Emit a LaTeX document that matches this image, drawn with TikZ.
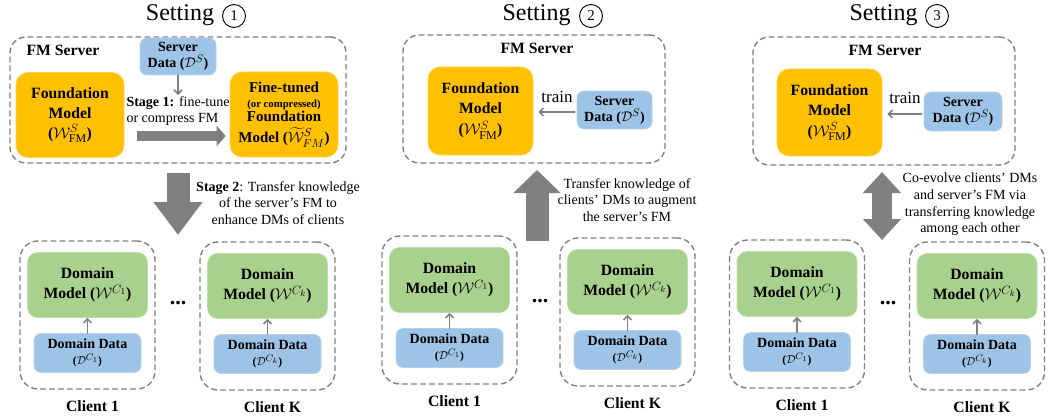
\RequirePackage{fix-cm}
\documentclass[tikz,border=0pt]{standalone}
\usepackage{fontspec}
\setmainfont{Liberation Serif}[BoldFont={Liberation Serif Bold},ItalicFont={Liberation Serif Italic}]
\usepackage{amsmath}
\usetikzlibrary{arrows.meta,positioning}

\DeclareMathSizes{15.7}{15.7}{12}{9}
\DeclareMathSizes{15}{15}{11.5}{8.5}
\DeclareMathSizes{14}{14}{11}{8}
\DeclareMathSizes{11.5}{11.5}{9.5}{7.5}

\definecolor{fmorange}{HTML}{FFC000}
\definecolor{dmgreen}{HTML}{A9D18E}
\definecolor{datablue}{HTML}{9DC3E6}
\definecolor{dashgray}{HTML}{7F7F7F}
\definecolor{arrowgray}{HTML}{808080}

\newcommand{\setfnt}{\fontsize{24}{26}\selectfont}
\newcommand{\boldfnt}{\fontsize{15.7}{20}\selectfont\bfseries}
\newcommand{\datafnt}{\fontsize{14}{16}\selectfont\bfseries}
\newcommand{\notefnt}{\fontsize{14}{16.7}\selectfont}
\newcommand{\smallfnt}{\fontsize{10.7}{14}\selectfont\bfseries}

\begin{document}
\begin{tikzpicture}[x=1pt,y=-1pt,line cap=round,line join=round,
	serverbox/.style={draw=dashgray,line width=1.4pt,dash pattern=on 5pt off 4pt,rounded corners=16pt},
	clientbox/.style={draw=dashgray,line width=1.4pt,dash pattern=on 5pt off 4pt,rounded corners=18pt,minimum width=135pt,minimum height=148pt},
	fmnode/.style={fill=fmorange,draw=fmorange!70!white,line width=0.6pt,rounded corners=12pt,align=center,font=\boldfnt,inner sep=1pt},
	dmnode/.style={fill=dmgreen,draw=dmgreen!75!white,line width=0.6pt,rounded corners=10pt,align=center,font=\boldfnt,minimum width=120pt,minimum height=65pt},
	datanode/.style={fill=datablue,draw=datablue!75!white,line width=0.6pt,rounded corners=7pt,align=center,font=\datafnt,inner sep=1pt},
	numcirc/.style={circle,draw=black,line width=0.9pt,minimum size=23pt,inner sep=0pt,font=\fontsize{15}{15}\selectfont},
	thinarrow/.style={draw=arrowgray,line width=1.6pt,-{Straight Barb[length=4pt,width=8pt]}},
	bigarrow/.style={draw=arrowgray,line cap=butt}]
	\useasboundingbox (0,0) rectangle (1052,420);

	% titles
	\node[font=\setfnt] (set1) at (180,15) {Setting};
	\node[numcirc] (num1) at (234,16) {1};
	\node[font=\setfnt] (set2) at (536.5,15) {Setting};
	\node[numcirc] (num2) at (591,16) {2};
	\node[font=\setfnt] (set3) at (883.5,15) {Setting};
	\node[numcirc] (num3) at (937,16) {3};

	% setting 1: server side
	\node[serverbox,minimum width=336pt,minimum height=126pt] (srv1) at (178,100) {};
	\node[font=\boldfnt] (srv1-lbl) at (63,50) {FM Server};
	\node[datanode,minimum width=76pt,minimum height=37pt] (sd1) at (178,56.5) {Server\\Data ($\mathcal{D}^S$)};
	\coordinate (sd1-end) at (178,95);
	\draw[thinarrow] (sd1.south) -- (sd1-end);
	\node[fmnode,minimum width=108pt,minimum height=85pt] (fm1) at (70,115) {Foundation\\Model\\($\mathcal{W}^S_{\mathrm{FM}}$)};
	\node[fmnode,minimum width=108pt,minimum height=85pt,font=\fontsize{15}{17}\selectfont\bfseries] (ft1) at (284,114.5) {Fine-tuned\\[-2pt]{\smallfnt(or compressed)}\\[-3pt]Foundation\\[4pt]Model ($\widetilde{\mathcal{W}}^S_{FM}$)};
	\node[font=\notefnt,align=left,anchor=west] (st1) at (123,111) {\textbf{Stage 1:} fine-tune\\or compress FM};
	\draw[bigarrow,line width=10pt,-{Triangle[length=9pt,width=20pt]},shorten <=13pt,shorten >=4pt] (fm1.east |- 0,136) -- (ft1.west |- 0,136);

	% stage 2 arrow
	\coordinate (a1-top) at (178,173);
	\coordinate (a1-tip) at (178,235);
	\draw[bigarrow,line width=23pt,-{Triangle[length=33pt,width=47pt]}] (a1-top) -- (a1-tip);
	\node[font=\notefnt,align=center] (st2) at (278,203) {\textbf{Stage 2}: Transfer knowledge\\of the server’s FM to\\enhance DMs of clients};

	% setting 2: server side
	\node[serverbox,minimum width=262pt,minimum height=128pt] (srv2) at (534,99) {};
	\node[font=\boldfnt] (srv2-lbl) at (537,48) {FM Server};
	\node[fmnode,minimum width=105pt,minimum height=88pt] (fm2) at (480.5,111) {Foundation\\Model\\[1pt]($\mathcal{W}^S_{\mathrm{FM}}$)};
	\node[datanode,minimum width=75pt,minimum height=38pt] (sd2) at (614.5,110) {Server\\Data ($\mathcal{D}^S$)};
	\draw[thinarrow,shorten <=2pt,shorten >=5pt] (sd2.west |- 0,112) -- (fm2.east |- 0,112);
	\node[font=\fontsize{17}{17}\selectfont] (tr2) at (557,97) {train};
	\coordinate (a2-bot) at (537,241);
	\coordinate (a2-tip) at (537,170);
	\draw[bigarrow,line width=23pt,-{Triangle[length=23pt,width=46pt]}] (a2-bot) -- (a2-tip);
	\node[font=\notefnt,align=center] (st3) at (627,200) {Transfer knowledge of\\clients’ DMs to augment\\the server’s FM};

	% setting 3: server side
	\node[serverbox,minimum width=262pt,minimum height=128pt] (srv3) at (884,101) {};
	\node[font=\boldfnt] (srv3-lbl) at (885,50) {FM Server};
	\node[fmnode,minimum width=105pt,minimum height=87pt] (fm3) at (829.5,112.5) {Foundation\\Model\\[1pt]($\mathcal{W}^S_{\mathrm{FM}}$)};
	\node[datanode,minimum width=78pt,minimum height=39pt] (sd3) at (963,111.5) {Server\\Data ($\mathcal{D}^S$)};
	\draw[thinarrow,shorten <=2pt,shorten >=5pt] (sd3.west |- 0,114) -- (fm3.east |- 0,114);
	\node[font=\fontsize{17}{17}\selectfont] (tr3) at (905,98) {train};
	\coordinate (a3-top) at (882,172);
	\coordinate (a3-bot) at (882,240);
	\draw[bigarrow,line width=20pt,{Triangle[length=21pt,width=37pt]}-{Triangle[length=21pt,width=37pt]}] (a3-top) -- (a3-bot);
	\node[font=\notefnt,align=center] (st4) at (970,204.5) {Co-evolve clients’ DMs\\and server’s FM via\\transferring knowledge\\among each other};

	% clients
	\foreach \n/\cx/\cy/\k/\s in {c1a/87.5/241/1/1, cKa/267.5/242/K/k, c1b/449.5/236/1/1, cKb/627.5/238/K/k, c1c/797/240/1/1, cKc/977/242/K/k}{
		\node[clientbox] (\n) at (\cx,\cy+74) {};
		\node[dmnode] (\n-dm) at (\cx,\cy+44) {Domain\\Model ($\mathcal{W}^{C_\s}$)};
		\node[datanode,minimum width=107pt,minimum height=39pt] (\n-dd) at (\cx,\cy+112) {Domain Data\\{\fontsize{11.5}{13}\selectfont($\mathcal{D}^{C_\s}$)}};
		\draw[thinarrow] (\n-dd.north) -- (\n-dm.south);
		\node[font=\boldfnt] (\n-lbl) at (\cx+5,\cy+165) {Client \k};
	}
	\node[font=\fontsize{22}{22}\selectfont\bfseries] (dots1) at (178,303) {...};
	\node[font=\fontsize{22}{22}\selectfont\bfseries] (dots2) at (540,301) {...};
	\node[font=\fontsize{22}{22}\selectfont\bfseries] (dots3) at (888,303) {...};
\end{tikzpicture}
\end{document}
